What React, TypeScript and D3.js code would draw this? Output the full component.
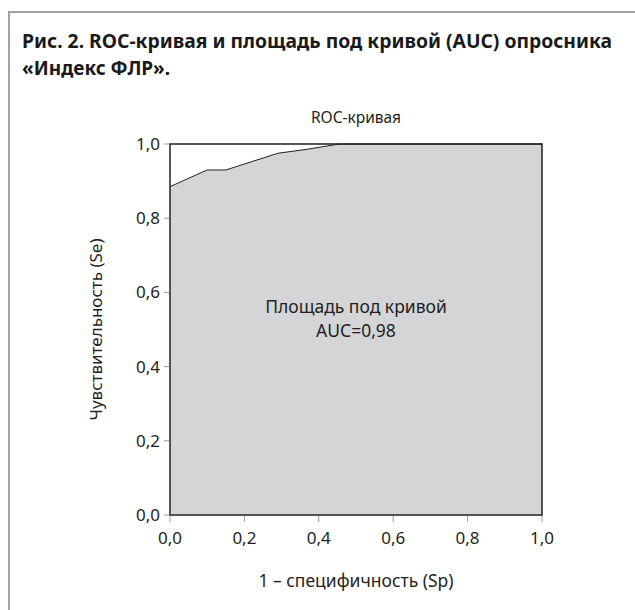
import React from 'react'
import * as d3 from 'd3'

// ROC curve points: [1 - Sp, Se]
const fpr = [0, 0.1, 0.15, 0.29, 0.37, 0.455, 1]
const tpr = [0.885, 0.93, 0.93, 0.975, 0.986, 1, 1]
const tickValues = [0, 0.2, 0.4, 0.6, 0.8, 1]

const titleLines = ['Рис. 2. ROC-кривая и площадь под кривой (AUC) опросника', '«Индекс ФЛР».']

const fmt = (v: number) => v.toFixed(1).replace('.', ',')

const W = 635
const H = 610
const margin = { left: 170, right: 93, top: 144, bottom: 95 }

const App: React.FC = () => {
  const x = d3.scaleLinear().domain([0, 1]).range([margin.left, W - margin.right])
  const y = d3.scaleLinear().domain([0, 1]).range([H - margin.bottom, margin.top])
  const points = fpr.map((f, i) => [f, tpr[i]] as [number, number])

  const area = d3.area<[number, number]>()
    .x(d => x(d[0]))
    .y0(y(0))
    .y1(d => y(d[1]))
  const line = d3.line<[number, number]>()
    .x(d => x(d[0]))
    .y(d => y(d[1]))

  const font = '"Noto Sans", sans-serif'
  const cx = (x(0) + x(1)) / 2

  return (
    <svg width={W} height={H} style={{ position: 'absolute', left: 0, top: 0 }} fontFamily={font}>
      <rect x={0} y={0} width={W} height={H} fill="#fff" />
      {/* card border, top and left only */}
      <path d={`M9,${H} V12 H${W}`} fill="none" stroke="#a3a3a3" strokeWidth={2} />

      {titleLines.map((t, i) => (
        <text
          key={i}
          x={22}
          y={48 + i * 27}
          fontSize={19.5}
          fontWeight="bold"
          fill="#1a1a1a"
          textLength={i === 0 ? 590 : 148}
          lengthAdjust="spacingAndGlyphs"
        >
          {t}
        </text>
      ))}

      <text x={cx} y={123} textAnchor="middle" fontSize={15.5} fill="#231f20">ROC-кривая</text>

      {/* area under curve */}
      <path d={area(points) ?? ''} fill="#d4d5d7" />
      <path d={line(points) ?? ''} fill="none" stroke="#231f20" strokeWidth={1} />
      <rect
        x={x(0)}
        y={y(1)}
        width={x(1) - x(0)}
        height={y(0) - y(1)}
        fill="none"
        stroke="#231f20"
        strokeWidth={1.5}
      />

      {/* y axis */}
      {tickValues.map(v => (
        <g key={'y' + v}>
          <line x1={x(0) - 6} x2={x(0) - 1} y1={y(v)} y2={y(v)} stroke="#999" strokeWidth={1} />
          <text x={x(0) - 10} y={y(v) + 6} textAnchor="end" fontSize={17} fill="#231f20">{fmt(v)}</text>
        </g>
      ))}
      {/* x axis */}
      {tickValues.map(v => (
        <g key={'x' + v}>
          <line x1={x(v)} x2={x(v)} y1={y(0) + 1} y2={y(0) + 7} stroke="#999" strokeWidth={1} />
          <text x={x(v)} y={y(0) + 29} textAnchor="middle" fontSize={17} fill="#231f20">{fmt(v)}</text>
        </g>
      ))}

      <text x={cx} y={313} textAnchor="middle" fontSize={17.5} fill="#231f20">Площадь под кривой</text>
      <text x={cx} y={337} textAnchor="middle" fontSize={17.5} fill="#231f20">AUC=0,98</text>

      <text x={cx} y={587} textAnchor="middle" fontSize={17.5} fill="#231f20">1 – специфичность (Sp)</text>
      <text
        transform={`translate(102,${(y(0) + y(1)) / 2}) rotate(-90)`}
        textAnchor="middle"
        fontSize={17}
        fill="#231f20"
      >
        Чувствительность (Se)
      </text>
    </svg>
  )
}

export default App
